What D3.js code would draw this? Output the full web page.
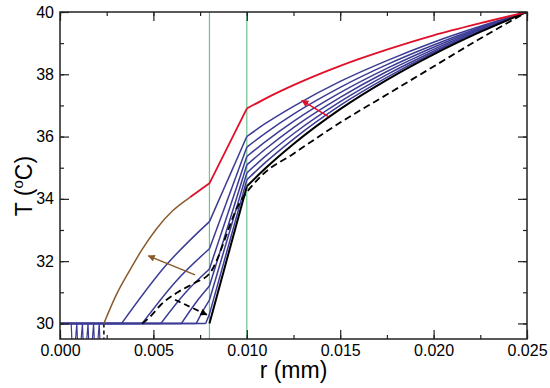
<!DOCTYPE html>
<html>
<head>
<meta charset="utf-8">
<script src="https://cdn.jsdelivr.net/npm/d3@7"></script>
<style>
  body { margin: 0; background: #fff; }
  svg text { font-family: "Liberation Sans", Arial, sans-serif; fill: #000; }
</style>
</head>
<body>
<svg id="chart" width="550" height="388"></svg>
<script>
// axis ticks
var rTicks = [0, 0.005, 0.010, 0.015, 0.020, 0.025];
var tTicks = [30, 32, 34, 36, 38, 40];

// outer curve (brown part, then red part)
var outerR = [0.00235, 0.0030, 0.00375, 0.00438, 0.00518, 0.0060, 0.00696, 0.008, 0.010, 0.011, 0.0125, 0.015, 0.0175, 0.020, 0.0225, 0.025];
var outerT = [30, 30.9, 31.72, 32.36, 33.05, 33.6, 34.05, 34.5, 36.9, 37.22, 37.65, 38.27, 38.79, 39.25, 39.64, 40];
var brownEnd = 6;  // brown turns red here
var kinkIdx = 8;   // r = 0.010

// blue curves: melt front, mid point, value at r=0.008 and r=0.010 and beyond
var blueStart = [0.0033, 0.0044, 0.0054, 0.0065, 0.0073, 0.0078];
var blueMidR  = [0.00565, 0.0062, 0.0067, 0.00725, 0.00765, 0.0079];
var blueMidT  = [31.85, 31.35, 30.98, 30.65, 30.4, 30.15];
var blueAt8   = [33.27, 32.4, 31.75, 31.2, 30.75, 30.3];
var outR      = [0.010, 0.011, 0.0125, 0.015, 0.0175, 0.020, 0.0225, 0.025];
var blueOut = [
  [36.0, 36.42, 36.97, 37.77, 38.44, 39.03, 39.54, 40],
  [35.66, 36.11, 36.72, 37.58, 38.31, 38.94, 39.50, 40],
  [35.36, 35.84, 36.49, 37.41, 38.19, 38.87, 39.47, 40],
  [35.09, 35.6, 36.29, 37.26, 38.09, 38.80, 39.44, 40],
  [34.83, 35.37, 36.09, 37.12, 37.99, 38.74, 39.41, 40],
  [34.61, 35.17, 35.92, 37.0, 37.9, 38.69, 39.38, 40]
];

// black solid curve
var blackR = [0.008, 0.010, 0.011, 0.0125, 0.015, 0.0175, 0.020, 0.0225, 0.025];
var blackT = [30, 34.4, 34.98, 35.76, 36.88, 37.82, 38.64, 39.36, 40];

// black dashed curve
var dashR = [0.0044, 0.0048, 0.0054, 0.0063, 0.0072, 0.008, 0.0096, 0.0108, 0.0125, 0.015, 0.0175, 0.020, 0.0225, 0.025];
var dashT = [30, 30.2, 30.6, 31.0, 31.3, 31.6, 33.85, 34.75, 35.45, 36.45, 37.35, 38.25, 39.15, 40];

// small spikes under T=30 near the axis
var spikeR = [0.0006, 0.0007, 0.0009, 0.0010, 0.0012, 0.0013, 0.0015, 0.0016, 0.0018, 0.0019, 0.0021, 0.0022];
var spikeT = [30, 28.5, 30, 28.5, 30, 28.5, 30, 28.5, 30, 28.5, 30, 28.5];
var dropR = [0.00235, 0.00235];
var dropT = [30, 29.5];

// green boundaries
var wallR = [0.008, 0.010];

// arrows [tailR, tailT, headR, headT]
var redArrow = [0.01437, 36.64, 0.01295, 37.16];
var brownArrow = [0.00723, 31.56, 0.00473, 32.17];
var dashArrow = [0.00616, 30.76, 0.00786, 30.28];

function drawChart() {
  var svg = d3.select('#chart');
  var margin = {top: 12, right: 23, bottom: 49, left: 60};
  var width = 550 - margin.left - margin.right;
  var height = 388 - margin.top - margin.bottom;

  var x = d3.scaleLinear().domain([0, 0.025]).range([0, width]);
  var y = d3.scaleLinear().domain([29.5, 40]).range([height, 0]);

  var g = svg.append('g').attr('transform', 'translate(' + margin.left + ',' + margin.top + ')');

  var defs = svg.append('defs');
  defs.append('clipPath').attr('id', 'clip')
    .append('rect').attr('width', width).attr('height', height);

  var arrowColors = ['#e0102a', '#8b5a2b', '#000'];
  arrowColors.forEach(function (c, i) {
    defs.append('marker').attr('id', 'head' + i)
      .attr('viewBox', '0 0 10 10').attr('refX', 9).attr('refY', 5)
      .attr('markerWidth', 8).attr('markerHeight', 7)
      .attr('markerUnits', 'userSpaceOnUse')
      .attr('orient', 'auto')
      .append('path').attr('d', 'M0,0L10,5L0,10z').attr('fill', c);
  });

  var line = d3.line()
    .x(function (d) { return x(d[0]); })
    .y(function (d) { return y(d[1]); });
  var smooth = d3.line()
    .x(function (d) { return x(d[0]); })
    .y(function (d) { return y(d[1]); })
    .curve(d3.curveMonotoneX);

  var plot = g.append('g').attr('clip-path', 'url(#clip)');

  function draw(path, color, w, dash) {
    var p = plot.append('path').attr('d', path)
      .attr('fill', 'none').attr('stroke', color).attr('stroke-width', w)
      .attr('stroke-linejoin', 'round');
    if (dash) p.attr('stroke-dasharray', dash);
    return p;
  }

  // green walls
  plot.selectAll('.wall').data(wallR).enter().append('line')
    .attr('x1', function (d) { return x(d); }).attr('x2', function (d) { return x(d); })
    .attr('y1', 0).attr('y2', height)
    .attr('stroke', '#6cc48a').attr('stroke-width', 1.2);

  // spikes
  draw(line(d3.zip(spikeR, spikeT)), '#3b3b95', 1.2);
  draw(line(d3.zip(dropR, dropT)), '#000', 1.5, '4,3');

  // blue curves
  blueStart.forEach(function (s, i) {
    var left = [[0, 30], [s, 30], [blueMidR[i], blueMidT[i]], [0.008, blueAt8[i]], [0.010, blueOut[i][0]]];
    var right = outR.map(function (r, j) { return [r, blueOut[i][j]]; });
    draw(smooth(left.slice(1, 4)), '#3b3b95', 1.5);
    draw(line([left[0], left[1]]), '#3b3b95', 1.5);
    draw(line(left.slice(3)), '#3b3b95', 1.5);
    draw(smooth(right), '#3b3b95', 1.5);
  });

  // dashed curve
  draw(smooth(d3.zip(dashR, dashT)), '#000', 1.8, '7,4');

  // black curve
  var black = d3.zip(blackR, blackT);
  draw(line(black.slice(0, 2)), '#000', 2);
  draw(smooth(black.slice(1)), '#000', 2);

  // outer curve brown + red
  var outer = d3.zip(outerR, outerT);
  draw(smooth(outer.slice(0, brownEnd + 1)), '#8b5a2b', 1.5);
  draw(line(outer.slice(brownEnd, kinkIdx + 1)), '#e0102a', 1.8);
  draw(smooth(outer.slice(kinkIdx)), '#e0102a', 1.8);

  // arrows
  [redArrow, brownArrow, dashArrow].forEach(function (a, i) {
    var p = g.append('line')
      .attr('x1', x(a[0])).attr('y1', y(a[1]))
      .attr('x2', x(a[2])).attr('y2', y(a[3]))
      .attr('stroke', arrowColors[i])
      .attr('stroke-width', i == 2 ? 1.8 : 1.5)
      .attr('marker-end', 'url(#head' + i + ')');
    if (i == 2) p.attr('stroke-dasharray', '6,4');
  });

  // axes, ticks inward on all sides
  var minorR = d3.range(0, 0.0251, 0.0025);
  var minorT = d3.range(30, 40.01, 1);

  function styleAxis(sel) {
    sel.selectAll('.domain').remove();
    sel.selectAll('line').attr('stroke', '#222').attr('stroke-width', 1.2);
    sel.selectAll('text').attr('font-size', '16px');
  }

  g.append('g').attr('transform', 'translate(0,' + height + ')')
    .call(d3.axisBottom(x).tickValues(minorR).tickSize(-4).tickFormat(''))
    .call(styleAxis);
  g.append('g').attr('transform', 'translate(0,' + height + ')')
    .call(d3.axisBottom(x).tickValues(rTicks).tickSize(-9).tickPadding(6).tickFormat(d3.format('.3f')))
    .call(styleAxis);
  g.append('g')
    .call(d3.axisTop(x).tickValues(minorR).tickSize(-4).tickFormat(''))
    .call(styleAxis);
  g.append('g')
    .call(d3.axisTop(x).tickValues(rTicks).tickSize(-9).tickFormat(''))
    .call(styleAxis);

  g.append('g')
    .call(d3.axisLeft(y).tickValues(minorT).tickSize(-4).tickFormat(''))
    .call(styleAxis);
  g.append('g')
    .call(d3.axisLeft(y).tickValues(tTicks).tickSize(-9).tickPadding(6).tickFormat(d3.format('d')))
    .call(styleAxis);
  g.append('g').attr('transform', 'translate(' + width + ',0)')
    .call(d3.axisRight(y).tickValues(minorT).tickSize(-4).tickFormat(''))
    .call(styleAxis);
  g.append('g').attr('transform', 'translate(' + width + ',0)')
    .call(d3.axisRight(y).tickValues(tTicks).tickSize(-9).tickFormat(''))
    .call(styleAxis);

  g.append('rect').attr('width', width).attr('height', height)
    .attr('fill', 'none').attr('stroke', '#222').attr('stroke-width', 1.5);

  // axis titles
  svg.append('text').attr('x', margin.left + width / 2).attr('y', 378)
    .attr('text-anchor', 'middle').attr('font-size', '23px').text('r (mm)');

  var yl = svg.append('text')
    .attr('transform', 'translate(32,186) rotate(-90)')
    .attr('text-anchor', 'middle').attr('font-size', '23px');
  yl.append('tspan').text('T (');
  yl.append('tspan').attr('font-size', '15px').attr('dy', -9).text('o');
  yl.append('tspan').attr('dy', 9).text('C)');
}

drawChart();
</script>
</body>
</html>
